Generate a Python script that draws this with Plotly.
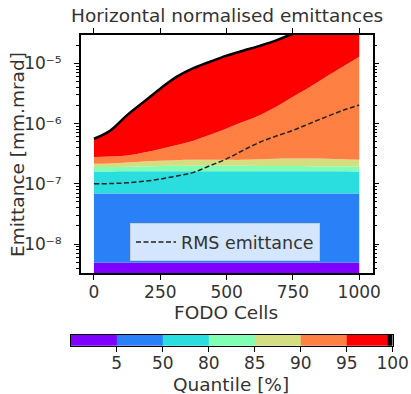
import plotly.graph_objects as go

W, H = 411, 394

# ---- data ----
cells = [0, 62.5, 125, 187.5, 250, 312.5, 375, 437.5, 500,
         562.5, 625, 687.5, 750, 812.5, 875, 937.5, 1000]

q0 = [1.0e-9] * 17
q5 = [4.9e-9] * 17
q50 = [6.9e-8] * 17
q80 = [1.6e-7, 1.6e-7, 1.61e-7, 1.62e-7, 1.62e-7, 1.62e-7, 1.62e-7, 1.62e-7, 1.62e-7,
       1.62e-7, 1.62e-7, 1.62e-7, 1.62e-7, 1.62e-7, 1.62e-7, 1.61e-7, 1.6e-7]
q85 = [1.9e-7, 1.9e-7, 1.92e-7, 1.95e-7, 1.97e-7, 1.99e-7, 2.0e-7, 2.0e-7, 2.0e-7,
       1.99e-7, 1.98e-7, 1.98e-7, 1.97e-7, 1.96e-7, 1.95e-7, 1.95e-7, 1.94e-7]
q90 = [2.15e-7, 2.17e-7, 2.25e-7, 2.35e-7, 2.42e-7, 2.47e-7, 2.5e-7, 2.5e-7, 2.5e-7,
       2.5e-7, 2.55e-7, 2.6e-7, 2.62e-7, 2.62e-7, 2.6e-7, 2.55e-7, 2.5e-7]
q95 = [2.8e-7, 2.83e-7, 2.95e-7, 3.3e-7, 3.8e-7, 4.4e-7, 5.2e-7, 6.5e-7, 8.3e-7,
       1.07e-6, 1.38e-6, 1.9e-6, 2.78e-6, 4.0e-6, 6.0e-6, 8.8e-6, 1.29e-5]
q100 = [5.6e-7, 7.7e-7, 1.38e-6, 2.29e-6, 3.8e-6, 6.0e-6, 8.3e-6, 1.06e-5, 1.34e-5,
        1.62e-5, 1.95e-5, 2.4e-5, 3.1e-5, 3.9e-5, 4.8e-5, 6.0e-5, 7.5e-5]
rms = [1.0e-7, 1.01e-7, 1.04e-7, 1.1e-7, 1.2e-7, 1.35e-7, 1.55e-7, 2.0e-7, 2.6e-7,
       3.6e-7, 4.9e-7, 6.2e-7, 7.7e-7, 1.0e-6, 1.29e-6, 1.65e-6, 2.03e-6]

band_tops = [q5, q50, q80, q85, q90, q95, q100]
band_colors = ['#8000ff', '#2a80f6', '#2addde', '#80ffb4', '#d4dd80', '#ff8042', '#ff0000']
quantile_labels = ['5', '50', '80', '85', '90', '95', '100']
colorbar_colors = band_colors + ['#000000']
colorbar_edges = [0, 1, 2, 3, 4, 5, 6, 6.9, 7]
x_ticks = [0, 250, 500, 750, 1000]
y_tick_vals = [1e-8, 1e-7, 1e-6, 1e-5]
y_tick_labels = ['10\u207b\u2078', '10\u207b\u2077', '10\u207b\u2076', '10\u207b\u2075']

FONT = 'DejaVu Sans'
TXT = '#333333'

fig = go.Figure()

# base
fig.add_trace(go.Scatter(x=cells, y=q0, mode='lines', line=dict(width=0),
                         showlegend=False, hoverinfo='skip'))
for i, (top, col) in enumerate(zip(band_tops, band_colors)):
    last = i == len(band_tops) - 1
    fig.add_trace(go.Scatter(
        x=cells, y=top, mode='lines', fill='tonexty', fillcolor=col,
        line=dict(width=2.5 if last else 0, color='black' if last else col, shape='spline'),
        showlegend=False, hoverinfo='skip'))

fig.add_trace(go.Scatter(x=cells, y=rms, mode='lines', name='RMS emittance',
                         line=dict(color='#222222', width=1.5, dash='5px,2.5px', shape='spline')))

# colorbar as heatmap
n = len(colorbar_colors)
cscale = [[i / (n - 1), c] for i, c in enumerate(colorbar_colors)]
fig.add_trace(go.Heatmap(x=colorbar_edges, z=[list(range(n))], y=[0, 1],
                         colorscale=cscale, zmin=0, zmax=n - 1, showscale=False,
                         xaxis='x2', yaxis='y2', hoverinfo='skip'))

axis_common = dict(showline=True, linecolor='black', linewidth=1.5, mirror='ticks',
                   ticks='outside', ticklen=5, tickwidth=1, tickcolor='black',
                   showgrid=False, zeroline=False, automargin=False)

fig.update_layout(
    width=W, height=H, margin=dict(l=0, r=0, t=0, b=0, autoexpand=False),
    paper_bgcolor='white', plot_bgcolor='white',
    showlegend=True,
    legend=dict(x=130 / W, y=1 - 223 / H, xanchor='left', yanchor='top',
                bgcolor='rgba(255,255,255,0.8)', bordercolor='#c8cbd0', borderwidth=1,
                itemwidth=40, tracegroupgap=0,
                font=dict(family=FONT, size=17.5, color=TXT)),
    xaxis=dict(domain=[80.7 / W, 372.5 / W], range=[-50, 1050], tickvals=x_ticks,
               anchor='y', ticklabelstandoff=-2,
               tickfont=dict(family=FONT, size=17, color=TXT), **axis_common),
    yaxis=dict(domain=[1 - 273 / H, 1 - 35 / H], type='log', range=[-8.48, -4.53],
               tickvals=y_tick_vals, ticktext=y_tick_labels, anchor='x', ticklabelstandoff=9,
               tickfont=dict(family=FONT, size=17, color=TXT),
               minor=dict(ticks='outside', ticklen=3, tickwidth=1, tickcolor='black',
                          dtick='D1', showgrid=False),
               **axis_common),
    xaxis2=dict(domain=[70.7 / W, 392.7 / W], range=[0, 7], anchor='y2',
                tickvals=[1, 2, 3, 4, 5, 6, 7], ticktext=quantile_labels,
                showline=True, linecolor='black', linewidth=1, mirror=True,
                ticks='outside', ticklen=5, tickwidth=1, tickcolor='black',
                showgrid=False, zeroline=False, automargin=False, ticklabelstandoff=-3,
                tickfont=dict(family=FONT, size=17, color=TXT)),
    yaxis2=dict(domain=[1 - 345.7 / H, 1 - 335 / H], range=[0, 1], anchor='x2',
                showticklabels=False, ticks='', showline=True, linecolor='black',
                linewidth=1, mirror=True, showgrid=False, zeroline=False, automargin=False),
    annotations=[
        dict(text='Horizontal normalised emittances', x=227 / W, y=1 - 15 / H,
             xref='paper', yref='paper', showarrow=False, xanchor='center', yanchor='middle',
             font=dict(family=FONT, size=18.5, color=TXT)),
        dict(text='Emittance [mm.mrad]', x=17 / W, y=1 - 155 / H, textangle=-90,
             xref='paper', yref='paper', showarrow=False, xanchor='center', yanchor='middle',
             font=dict(family=FONT, size=18.5, color=TXT)),
        dict(text='FODO Cells', x=226 / W, y=1 - 312 / H,
             xref='paper', yref='paper', showarrow=False, xanchor='center', yanchor='middle',
             font=dict(family=FONT, size=18.5, color=TXT)),
        dict(text='Quantile [%]', x=231 / W, y=1 - 384 / H,
             xref='paper', yref='paper', showarrow=False, xanchor='center', yanchor='middle',
             font=dict(family=FONT, size=18.5, color=TXT)),
    ],
)

fig.write_html('out.html', config={'displayModeBar': False},
               post_script="document.body.style.margin='0';")
